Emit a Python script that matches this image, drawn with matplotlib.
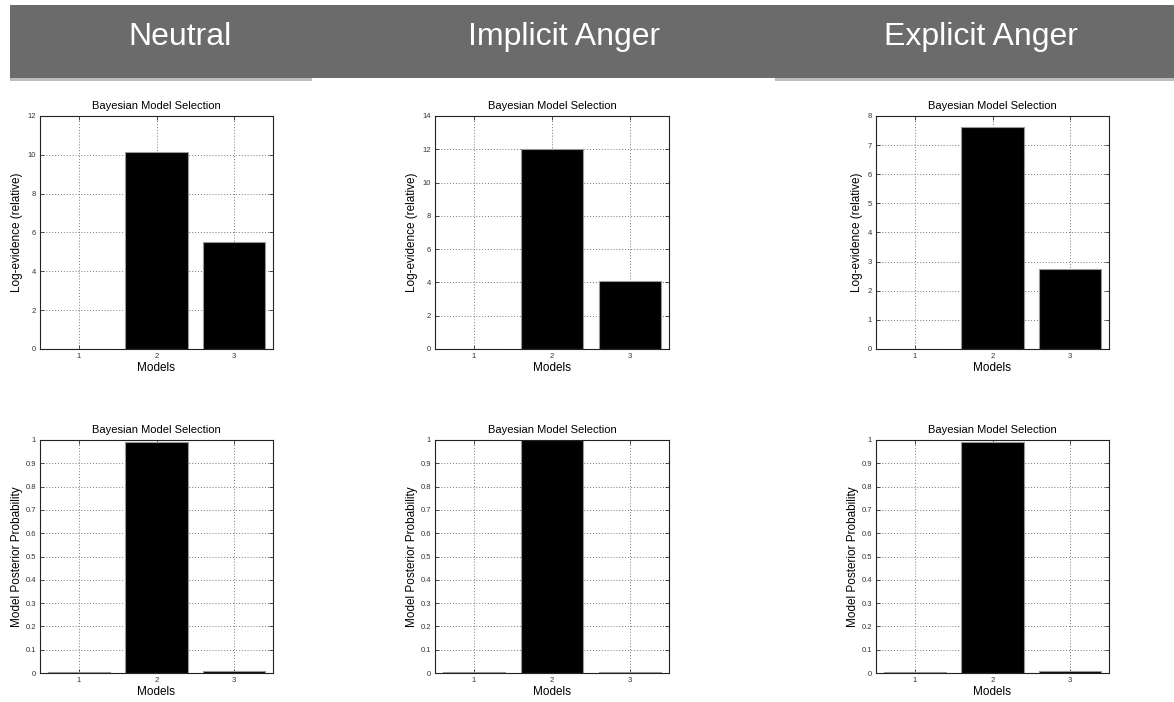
import numpy as np
import matplotlib
matplotlib.use("Agg")
import matplotlib.pyplot as plt
from matplotlib.patches import Rectangle

# 데이터
models = [1, 2, 3]
conditions = ["Neutral", "Implicit Anger", "Explicit Anger"]

log_ev_neutral = [0.0, 10.13, 5.52]
log_ev_implicit = [0.0, 12.02, 4.09]
log_ev_explicit = [0.0, 7.61, 2.75]

post_neutral = [0.003, 0.992, 0.010]
post_implicit = [0.003, 0.999, 0.003]
post_explicit = [0.003, 0.991, 0.009]

log_ev_yticks = [np.arange(0, 13, 2), np.arange(0, 15, 2), np.arange(0, 9, 1)]
post_yticks = np.round(np.arange(0, 1.01, 0.1), 1)
post_ylabels = ["0", "0.1", "0.2", "0.3", "0.4", "0.5", "0.6", "0.7", "0.8", "0.9", "1"]

W, H = 1174, 702
plt.rcParams['font.family'] = ['Liberation Sans', 'DejaVu Sans']

fig = plt.figure(figsize=(W / 100, H / 100), dpi=100)


def px_box(x0, y0, x1, y1):
    # 픽셀 좌표 -> figure 좌표
    return [x0 / W, 1 - y1 / H, (x1 - x0) / W, (y1 - y0) / H]


# 헤더 바
fig.patches.append(Rectangle((10 / W, 1 - 81 / H), 302 / W, 3 / H, transform=fig.transFigure,
                             facecolor='#bcbcbc', edgecolor='none'))
fig.patches.append(Rectangle((775 / W, 1 - 81 / H), 399 / W, 3 / H, transform=fig.transFigure,
                             facecolor='#bcbcbc', edgecolor='none'))
fig.patches.append(Rectangle((10 / W, 1 - 78 / H), 1164 / W, 73 / H, transform=fig.transFigure,
                             facecolor='#6b6b6b', edgecolor='none'))
header_x = [180, 564, 981]
for cx, name in zip(header_x, conditions):
    fig.text(cx / W, 1 - 45 / H, name, color='white', fontsize=23, ha='center', va='baseline')

col_x = [(40, 273), (435, 669), (876, 1109)]
top_y = (116, 349)
bot_y = (440, 673)

log_ev = [log_ev_neutral, log_ev_implicit, log_ev_explicit]
post = [post_neutral, post_implicit, post_explicit]


def style_ax(ax):
    ax.set_xlim(0.5, 3.5)
    ax.set_xticks(models)
    ax.set_axisbelow(True)
    ax.grid(True, linestyle=(0, (1, 2)), color='#777777', linewidth=0.7)
    ax.tick_params(direction='in', length=3, width=0.6, labelsize=5.5, colors='#333333',
                   top=True, right=True, pad=3)
    for s in ax.spines.values():
        s.set_linewidth(0.8)
        s.set_color('#222222')
    ax.set_title("Bayesian Model Selection", fontsize=8, pad=5)
    ax.set_xlabel("Models", fontsize=8.5, labelpad=1)


for i in range(3):
    ax = fig.add_axes(px_box(col_x[i][0], top_y[0], col_x[i][1], top_y[1]))
    ax.bar(models, log_ev[i], width=0.8, color='black', edgecolor='#999999', linewidth=0.8)
    yt = log_ev_yticks[i]
    ax.set_ylim(yt[0], yt[-1])
    ax.set_yticks(yt)
    style_ax(ax)
    ax.set_ylabel("Log-evidence (relative)", fontsize=8.5, labelpad=3)

    ax = fig.add_axes(px_box(col_x[i][0], bot_y[0], col_x[i][1], bot_y[1]))
    ax.bar(models, post[i], width=0.8, color='black', edgecolor='#999999', linewidth=0.8)
    ax.set_ylim(0, 1)
    ax.set_yticks(post_yticks)
    ax.set_yticklabels(post_ylabels)
    style_ax(ax)
    ax.set_ylabel("Model Posterior Probability", fontsize=8.5, labelpad=2)

fig.savefig("out.png", dpi=100)
